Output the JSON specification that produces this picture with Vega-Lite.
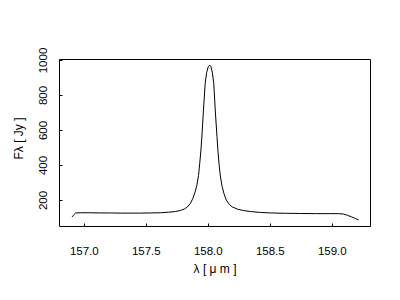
{
  "$schema": "https://vega.github.io/schema/vega-lite/v6.json",
  "width": 311,
  "height": 167,
  "autosize": {"type": "none"},
  "padding": {"left": 59, "top": 59, "right": 30, "bottom": 74},
  "background": "white",
  "config": {
    "view": {"stroke": "black", "strokeWidth": 1},
    "font": "Liberation Sans",
    "axis": {
      "domain": false,
      "grid": false,
      "ticks": true,
      "tickSize": -3,
      "tickColor": "black",
      "labelColor": "black",
      "titleColor": "black",
      "labelFontSize": 11.5,
      "titleFontSize": 12,
      "titleFontWeight": "normal"
    }
  },
  "data": {
    "values": [
      {"wavelength": 156.905, "flux": 103},
      {"wavelength": 156.915, "flux": 112},
      {"wavelength": 156.935, "flux": 126},
      {"wavelength": 156.972, "flux": 127},
      {"wavelength": 157.052, "flux": 127},
      {"wavelength": 157.133, "flux": 126},
      {"wavelength": 157.214, "flux": 126},
      {"wavelength": 157.294, "flux": 125},
      {"wavelength": 157.375, "flux": 125},
      {"wavelength": 157.456, "flux": 125},
      {"wavelength": 157.536, "flux": 126},
      {"wavelength": 157.617, "flux": 127},
      {"wavelength": 157.681, "flux": 130},
      {"wavelength": 157.738, "flux": 134},
      {"wavelength": 157.778, "flux": 140},
      {"wavelength": 157.810, "flux": 148},
      {"wavelength": 157.835, "flux": 160},
      {"wavelength": 157.859, "flux": 180},
      {"wavelength": 157.879, "flux": 208},
      {"wavelength": 157.895, "flux": 240},
      {"wavelength": 157.911, "flux": 282},
      {"wavelength": 157.925, "flux": 340},
      {"wavelength": 157.935, "flux": 410},
      {"wavelength": 157.944, "flux": 480},
      {"wavelength": 157.952, "flux": 560},
      {"wavelength": 157.965, "flux": 714},
      {"wavelength": 157.979, "flux": 867},
      {"wavelength": 157.991, "flux": 930},
      {"wavelength": 158.004, "flux": 962},
      {"wavelength": 158.015, "flux": 971},
      {"wavelength": 158.025, "flux": 962},
      {"wavelength": 158.036, "flux": 930},
      {"wavelength": 158.048, "flux": 867},
      {"wavelength": 158.060, "flux": 714},
      {"wavelength": 158.074, "flux": 562},
      {"wavelength": 158.082, "flux": 480},
      {"wavelength": 158.090, "flux": 410},
      {"wavelength": 158.101, "flux": 338},
      {"wavelength": 158.115, "flux": 278},
      {"wavelength": 158.131, "flux": 235},
      {"wavelength": 158.149, "flux": 200},
      {"wavelength": 158.173, "flux": 175},
      {"wavelength": 158.198, "flux": 160},
      {"wavelength": 158.238, "flux": 148},
      {"wavelength": 158.286, "flux": 140},
      {"wavelength": 158.343, "flux": 134},
      {"wavelength": 158.423, "flux": 129},
      {"wavelength": 158.504, "flux": 126},
      {"wavelength": 158.625, "flux": 124},
      {"wavelength": 158.746, "flux": 123},
      {"wavelength": 158.867, "flux": 122},
      {"wavelength": 158.988, "flux": 122},
      {"wavelength": 159.052, "flux": 122},
      {"wavelength": 159.093, "flux": 120},
      {"wavelength": 159.125, "flux": 113},
      {"wavelength": 159.157, "flux": 104},
      {"wavelength": 159.190, "flux": 94},
      {"wavelength": 159.216, "flux": 86}
    ]
  },
  "mark": {"type": "line", "color": "black", "strokeWidth": 1},
  "encoding": {
    "x": {
      "field": "wavelength",
      "type": "quantitative",
      "scale": {"domain": [156.8, 159.308], "nice": false, "zero": false},
      "axis": {
        "title": "λ [ μ m ]",
        "values": [157, 157.5, 158, 158.5, 159],
        "format": ".1f",
        "labelPadding": 22,
        "labelBaseline": "top",
        "titleY": 46,
        "titleBaseline": "alphabetic"
      }
    },
    "y": {
      "field": "flux",
      "type": "quantitative",
      "scale": {"domain": [51.4, 1005.7], "nice": false, "zero": false},
      "axis": {
        "title": "Fλ [ Jy ]",
        "values": [200, 400, 600, 800, 1000],
        "format": "d",
        "labelAngle": -90,
        "labelAlign": "center",
        "labelBaseline": "alphabetic",
        "labelPadding": 16,
        "titleAngle": -90,
        "titleX": -36.5,
        "titleY": 79,
        "titleAlign": "center",
        "titleBaseline": "alphabetic"
      }
    }
  }
}
